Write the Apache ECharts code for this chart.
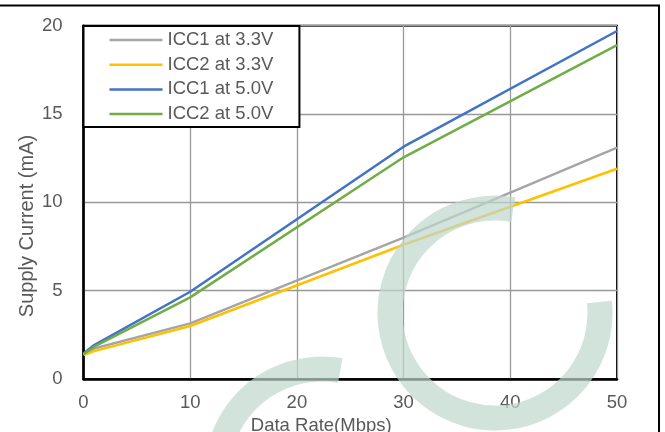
<!DOCTYPE html>
<html>
<head>
<meta charset="utf-8">
<script src="https://cdn.jsdelivr.net/npm/echarts@6/dist/echarts.min.js"></script>
<style>html,body{margin:0;padding:0;background:#fff}#c{width:665px;height:432px}</style>
</head>
<body>
<div id="c"></div>
<script>
var dataRate = [0, 1, 10, 30, 50];
var icc1At33 = [1.4, 1.73, 3.15, 8.0, 13.1];
var icc2At33 = [1.35, 1.58, 3.0, 7.6, 11.9];
var icc1At50 = [1.45, 1.92, 4.94, 13.15, 19.7];
var icc2At50 = [1.4, 1.83, 4.62, 12.55, 18.9];
var seriesNames = ['ICC1 at 3.3V', 'ICC2 at 3.3V', 'ICC1 at 5.0V', 'ICC2 at 5.0V'];
var seriesColors = ['#A5A5A5', '#FFC000', '#4472C4', '#70AD47'];
var xTicks = [0, 10, 20, 30, 40, 50];
var yTicks = [0, 5, 10, 15, 20];
var xTitle = 'Data Rate(Mbps)';
var yTitle = 'Supply Current (mA)';

function pairs(ys) { return dataRate.map(function (x, i) { return [x, ys[i]]; }); }
var allData = [icc1At33, icc2At33, icc1At50, icc2At50];
var font = 'Liberation Sans, Arial, sans-serif';
var chart = echarts.init(document.getElementById('c'));
var wm = 'rgba(191,215,205,0.7)';
var deg = Math.PI / 180;
chart.setOption({
  animation: false,
  backgroundColor: '#fff',
  grid: { left: 83.5, right: 48, top: 25.7, bottom: 53, outerBoundsMode: 'none', containLabel: false, show: true, borderColor: '#000', borderWidth: 2, backgroundColor: 'transparent' },
  legend: {
    data: seriesNames,
    orient: 'vertical',
    left: 83.5, top: 26,
    backgroundColor: '#fff',
    borderColor: '#000', borderWidth: 2,
    padding: [4, 26, 3, 26],
    icon: 'rect',
    itemWidth: 53, itemHeight: 2.5, itemGap: 4.7,
    textStyle: { fontFamily: font, fontSize: 18.5, color: '#595959', lineHeight: 20 },
    z: 10
  },
  xAxis: {
    type: 'value', min: xTicks[0], max: xTicks[xTicks.length - 1], interval: 10,
    name: xTitle, nameLocation: 'middle', nameGap: 32,
    nameTextStyle: { fontFamily: font, fontSize: 18.5, color: '#595959', padding: [0, 58, 0, 0] },
    axisLine: { show: true, onZero: false, lineStyle: { color: '#000', width: 2.5 } },
    axisTick: { show: false },
    axisLabel: { margin: 14, fontFamily: font, fontSize: 18.5, color: '#595959' },
    splitLine: { show: true, lineStyle: { color: '#999', width: 1.3 } }
  },
  yAxis: {
    type: 'value', min: yTicks[0], max: yTicks[yTicks.length - 1], interval: 5,
    axisLine: { show: true, lineStyle: { color: '#000', width: 2.5 } },
    axisTick: { show: false },
    axisLabel: { margin: 21, fontFamily: font, fontSize: 18.5, color: '#595959' },
    splitLine: { show: true, lineStyle: { color: '#999', width: 1.3 } }
  },
  series: seriesNames.map(function (n, i) {
    return {
      name: n, type: 'line', data: pairs(allData[i]), symbol: 'none',
      lineStyle: { color: seriesColors[i], width: 2.5 }, itemStyle: { color: seriesColors[i] }
    };
  }),
  graphic: [
    { type: 'text', x: 27, y: 226, rotation: Math.PI / 2, style: { text: yTitle, font: '20px ' + font, fill: '#595959', align: 'center', verticalAlign: 'middle' }, z: 5 },
    { type: 'polyline', shape: { points: [[0, 5.5], [659, 5.5], [659, 432]] }, style: { stroke: '#000', lineWidth: 2, fill: null }, z: 100 },
    { type: 'arc', shape: { cx: 495, cy: 313, r: 105, startAngle: -6 * deg, endAngle: 280 * deg, clockwise: true }, style: { stroke: wm, lineWidth: 25, fill: null }, z: 90 },
    { type: 'arc', shape: { cx: 322, cy: 474, r: 105, startAngle: -6 * deg, endAngle: 280 * deg, clockwise: true }, style: { stroke: wm, lineWidth: 25, fill: null }, z: 90 }
  ]
});
</script>
</body>
</html>
